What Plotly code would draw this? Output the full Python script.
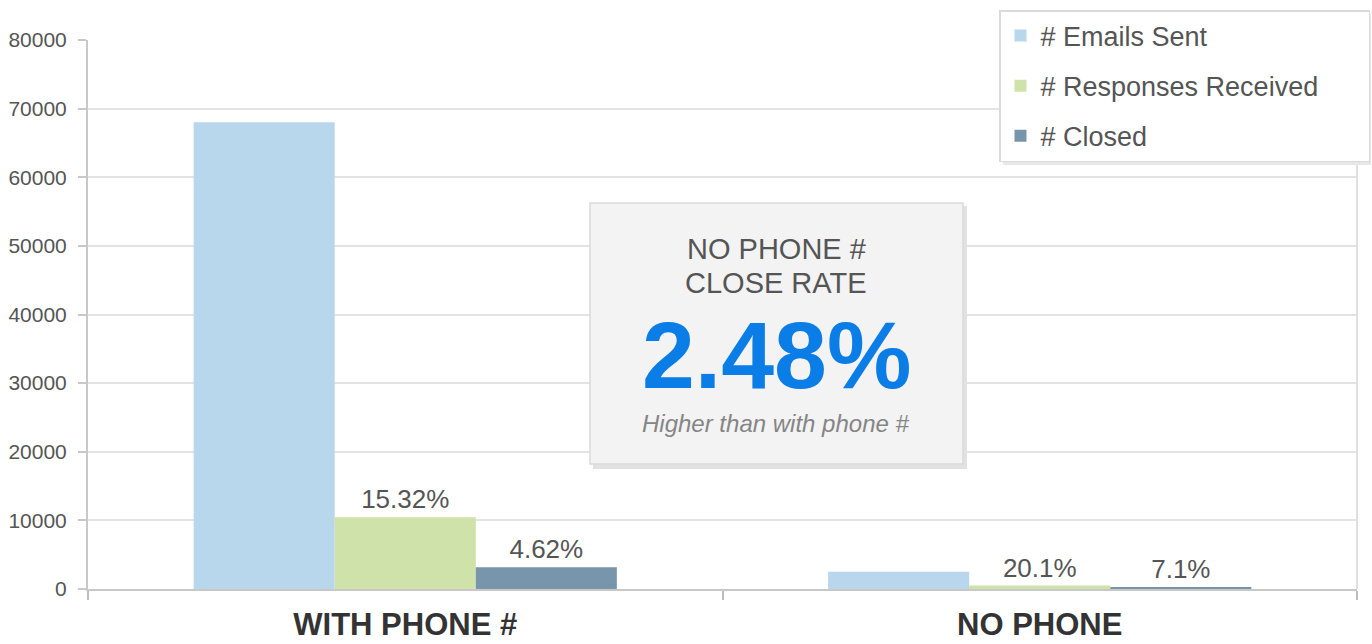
import plotly.graph_objects as go

categories = ["WITH PHONE #", "NO PHONE"]
emails_sent = [68000, 2500]
responses_received = [10450, 500]
closed = [3180, 180]
response_labels = ["15.32%", "20.1%"]
closed_labels = ["4.62%", "7.1%"]
y_ticks = [0, 10000, 20000, 30000, 40000, 50000, 60000, 70000, 80000]

FONT = "Arial, Liberation Sans, sans-serif"
L, R, T, B = 88, 15, 40, 55
W, H = 1372, 644
pw, ph = W - L - R, H - T - B

def px(x):
    return (x - L) / pw

def py(y):
    return (H - B - y) / ph

NB = "\u00a0" * 6  # right padding inside the legend box

fig = go.Figure()
fig.add_trace(go.Bar(x=categories, y=emails_sent, name="# Emails Sent",
                     marker=dict(color="#b9d7ec", line=dict(width=0)),
                     legendgroup="a"))
fig.add_trace(go.Bar(x=categories, y=responses_received, name="# Responses Received" + NB,
                     marker=dict(color="#cfe2a9", line=dict(width=0)),
                     text=response_labels, textposition="outside", constraintext="none",
                     textfont=dict(size=26, color="#555555", family=FONT),
                     cliponaxis=False, legendgroup="b"))
fig.add_trace(go.Bar(x=categories, y=closed, name="# Closed",
                     marker=dict(color="#7896ab", line=dict(width=0)),
                     text=closed_labels, textposition="outside", constraintext="none",
                     textfont=dict(size=26, color="#555555", family=FONT),
                     cliponaxis=False, legendgroup="c"))

shapes = [
    # right border of plot
    dict(type="line", xref="paper", yref="paper", x0=1, x1=1, y0=0, y1=1,
         line=dict(color="#e0e0e0", width=2), layer="above"),
    # callout shadow
    dict(type="rect", xref="paper", yref="paper",
         x0=px(593), x1=px(967), y0=py(469), y1=py(206),
         fillcolor="#e2e2e2", line=dict(width=0), layer="above"),
    # callout box
    dict(type="rect", xref="paper", yref="paper",
         x0=px(590), x1=px(963), y0=py(464), y1=py(203),
         fillcolor="#f3f3f3", line=dict(color="#dadada", width=1.5), layer="above"),
    # legend shadow
    dict(type="rect", xref="paper", yref="paper",
         x0=px(1003), x1=px(1371), y0=py(165), y1=py(14),
         fillcolor="#e8e8e8", line=dict(width=0), layer="above"),
]

cx = px(776)
annotations = [
    dict(text="NO PHONE #", x=cx, y=py(249), xref="paper", yref="paper", showarrow=False,
         font=dict(size=29, color="#555555", family=FONT), xanchor="center", yanchor="middle"),
    dict(text="CLOSE RATE", x=cx, y=py(283), xref="paper", yref="paper", showarrow=False,
         font=dict(size=29, color="#555555", family=FONT), xanchor="center", yanchor="middle"),
    dict(text="<b>2.48%</b>", x=cx, y=py(355), xref="paper", yref="paper", showarrow=False,
         font=dict(size=95, color="#0a7de6", family=FONT), xanchor="center", yanchor="middle"),
    dict(text="<i>Higher than with phone #</i>", x=cx, y=py(423), xref="paper", yref="paper",
         showarrow=False, font=dict(size=24, color="#858585", family=FONT),
         xanchor="center", yanchor="middle"),
]

fig.update_layout(
    width=W, height=H,
    margin=dict(l=L, r=R, t=T, b=B, pad=0, autoexpand=False),
    paper_bgcolor="white", plot_bgcolor="white",
    barmode="group", bargap=0.333, bargroupgap=0,
    font=dict(family=FONT, color="#555555"),
    showlegend=True,
    legend=dict(x=px(999), y=py(10), xanchor="left", yanchor="top",
                bgcolor="white", bordercolor="#dadada", borderwidth=1.5,
                font=dict(size=27, color="#555555", family=FONT),
                traceorder="grouped", tracegroupgap=12, itemwidth=30),
    shapes=shapes,
    annotations=annotations,
    xaxis=dict(type="category", tickson="boundaries", ticks="outside", ticklen=9,
               tickcolor="#bdbdbd", tickwidth=2, showline=True, linecolor="#c8c8c8",
               linewidth=2, showgrid=False, ticklabelstandoff=7, automargin=False,
               tickfont=dict(size=31, color="#333333", family=FONT, weight="bold")),
    yaxis=dict(range=[0, 80000], tickvals=y_ticks, tickformat="d", ticks="outside",
               ticklen=8, tickcolor="#c8c8c8", tickwidth=2, showline=True,
               linecolor="#c8c8c8", linewidth=2, gridcolor="#e3e3e3", gridwidth=1.5,
               zeroline=False, ticklabelstandoff=7, automargin=False,
               tickfont=dict(size=21, color="#555555", family=FONT)),
)

fig.write_html(
    "out.html",
    config={"displayModeBar": False},
    post_script="document.body.style.margin='0';document.body.style.overflow='hidden';",
)
